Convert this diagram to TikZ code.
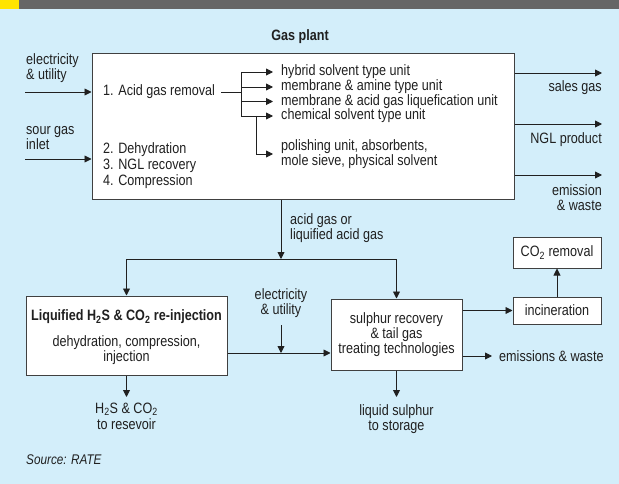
\documentclass[tikz,border=0pt]{standalone}
\usepackage{fontspec}
\setmainfont[FakeStretch=0.84]{Liberation Sans}
\usetikzlibrary{arrows.meta}
\definecolor{bgblue}{HTML}{D3EEFA}
\definecolor{bargrey}{HTML}{666666}
\definecolor{baryellow}{HTML}{FFE400}
\definecolor{ink}{HTML}{202020}
\begin{document}
\begin{tikzpicture}[x=1pt,y=-1pt,
  txt/.style={inner sep=0pt, font=\fontsize{15}{15}\selectfont, text=ink},
  btxt/.style={inner sep=0pt, font=\fontsize{15}{15}\selectfont\bfseries, text=ink},
  box/.style={draw=black!75, line width=1pt, fill=white, inner sep=0pt},
  arr/.style={-{Triangle[length=7pt,width=7pt]}, line width=0.9pt, draw=ink},
  ln/.style={line width=0.9pt, draw=ink}]
\useasboundingbox (0,0) rectangle (619,484);
\fill[bgblue] (0,0) rectangle (619,484);
\fill[bargrey] (0,0) rectangle (619,9);
\fill[baryellow] (0,0) rectangle (19,9);

% Gas plant
\node[btxt] (gptitle) at (300,37) {Gas plant};
\node[box, minimum width=422pt, minimum height=146pt] (gp) at (303,127) {};

% inputs
\node[txt, anchor=west, align=left] (eu1) at (26,68.5) {electricity\\\& utility};
\coordinate (in1) at (25,92);
\draw[arr] (in1) -- (gp.west |- in1);
\node[txt, anchor=west, align=left] (sg) at (26,138.5) {sour gas\\inlet};
\coordinate (in2) at (25,159);
\draw[arr] (in2) -- (gp.west |- in2);

% inside
\node[txt, anchor=west] (agr) at (103,92) {1. Acid gas removal};
\node[txt, anchor=west, align=left, font=\fontsize{15}{16}\selectfont] (steps) at (103,166) {2. Dehydration\\3. NGL recovery\\4. Compression};
\node[txt, anchor=west] (u1) at (281,72) {hybrid solvent type unit};
\node[txt, anchor=west] (u2) at (281,87) {membrane \& amine type unit};
\node[txt, anchor=west] (u3) at (281,101.5) {membrane \& acid gas liquefication unit};
\node[txt, anchor=west] (u4) at (281,116) {chemical solvent type unit};
\node[txt, anchor=west, align=left, font=\fontsize{15}{14.5}\selectfont] (pol) at (281,154) {polishing unit, absorbents,\\mole sieve, physical solvent};
\coordinate (b0) at (221,92);
\coordinate (j1) at (241,92);
\coordinate (j2) at (256,116);
\draw[ln] (b0) -- (j1);
\draw[ln] (j1 |- u1) -- (j1 |- u4);
\foreach \u in {u1,u2,u3,u4}{
  \draw[arr] (j1 |- \u.west) -- ([xshift=-8pt]\u.west);
}
\draw[arr] (j2) |- ([xshift=-8pt]pol.west);

% outputs
\coordinate (o1) at (602,73);
\coordinate (o2) at (602,124);
\coordinate (o3) at (602,175);
\draw[arr] (gp.east |- o1) -- (o1);
\draw[arr] (gp.east |- o2) -- (o2);
\draw[arr] (gp.east |- o3) -- (o3);
\node[txt, anchor=east] (sales) at (602,88) {sales gas};
\node[txt, anchor=east] (ngl) at (602,140) {NGL product};
\node[txt, anchor=east, align=right] (emw) at (602,197.5) {emission\\\& waste};

% acid gas down
\coordinate (d1) at (281,259);
\draw[arr] (gp.south -| d1) -- (d1);
\node[txt, anchor=west, align=left] (ag) at (290,228.5) {acid gas or\\liquified acid gas};

% lower boxes
\node[box, minimum width=201pt, minimum height=79pt] (lb) at (126.5,335.5) {};
\node[btxt] (lbt) at (126.5,317) {Liquified H\textsubscript{2}S \& CO\textsubscript{2} re-injection};
\node[txt, align=center] (lbs) at (126.5,350) {dehydration, compression,\\injection};

\node[box, minimum width=131pt, minimum height=71pt, align=center, font=\fontsize{15}{15}\selectfont, text=ink] (sb) at (396.5,334.5) {sulphur recovery\\\& tail gas\\treating technologies};

\node[box, minimum width=88pt, minimum height=27pt, font=\fontsize{15}{15}\selectfont, text=ink] (inc) at (557,310.5) {incineration};
\node[box, minimum width=88pt, minimum height=31pt, font=\fontsize{15}{15}\selectfont, text=ink] (co2) at (557,252.5) {CO\textsubscript{2} removal};

\draw[ln] (lb.north |- d1) -- (sb.north |- d1);
\draw[arr] (lb.north |- d1) -- (lb.north);
\draw[arr] (sb.north |- d1) -- (sb.north);

% electricity to junction
\node[txt, align=center] (eu2) at (281,303) {electricity\\\& utility};
\coordinate (e0) at (281,325);
\coordinate (h) at (281,353);
\draw[arr] (e0) -- (h);
\draw[arr] (lb.east |- h) -- (sb.west |- h);

% sulphur to incineration and CO2
\draw[arr] (sb.east |- inc) -- (inc.west);
\draw[arr] (inc.north) -- (co2.south);

% emissions
\node[txt, anchor=west] (em) at (499,356) {emissions \& waste};
\draw[arr] (sb.east |- em) -- ([xshift=-7pt]em.west);

% liquid sulphur
\coordinate (ls0) at (396.5,397);
\draw[arr] (sb.south) -- (ls0);
\node[txt, align=center] (ls) at (396.5,419.5) {liquid sulphur\\to storage};

% H2S to reservoir
\coordinate (hs0) at (126.5,397);
\draw[arr] (lb.south) -- (hs0);
\node[txt, align=center, font=\fontsize{15}{16}\selectfont] (hs) at (126.5,416) {H\textsubscript{2}S \& CO\textsubscript{2}\\to resevoir};

% source
\node[txt, anchor=west, font=\fontsize{14}{15}\selectfont\itshape] (src) at (26,460) {Source: RATE};
\end{tikzpicture}
\end{document}
